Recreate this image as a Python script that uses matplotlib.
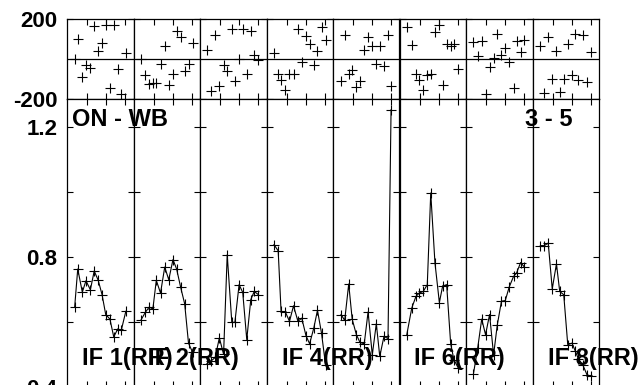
import matplotlib
matplotlib.use('Agg')
import matplotlib.pyplot as plt

plt.rcParams['font.family'] = ['Liberation Sans', 'DejaVu Sans']
plt.rcParams['font.weight'] = 'bold'

# time (per IF column, arbitrary units)
t_if1 = [0.35, 0.51, 0.75, 0.94, 1.17, 1.37, 1.58, 1.78, 1.97, 2.19, 2.39, 2.60, 2.78, 3.02]
t_if2 = [0.33, 0.57, 0.77, 0.96, 1.14, 1.36, 1.58, 1.79, 2.01, 2.20, 2.41, 2.62, 2.82, 3.03]
t_if3 = [0.30, 0.55, 0.74, 0.96, 1.18, 1.37, 1.61, 1.77, 1.99, 2.18, 2.39, 2.60, 2.78, 3.00]
t_if4 = [0.34, 0.56, 0.71, 0.94, 1.15, 1.36, 1.59, 1.79, 2.01, 2.20, 2.42, 2.61, 2.82, 3.03]
t_if5 = [0.37, 0.56, 0.77, 0.95, 1.17, 1.36, 1.58, 1.78, 2.00, 2.21, 2.39, 2.61, 2.82, 2.98]
t_if6 = [0.33, 0.59, 0.81, 0.98, 1.19, 1.40, 1.58, 1.80, 2.03, 2.20, 2.41, 2.62, 2.79, 3.02]
t_if7 = [0.34, 0.56, 0.77, 0.97, 1.18, 1.39, 1.58, 1.80, 2.00, 2.20, 2.43, 2.59, 2.80, 3.00]
t_if8 = [0.36, 0.57, 0.77, 0.98, 1.20, 1.37, 1.58, 1.79, 2.01, 2.18, 2.35, 2.57, 2.79, 3.00]

# amplitude
amp_if1 = [0.645, 0.762, 0.691, 0.726, 0.698, 0.756, 0.727, 0.683, 0.622, 0.608, 0.553, 0.578, 0.573, 0.632]
amp_if2 = [0.604, 0.629, 0.645, 0.639, 0.727, 0.688, 0.768, 0.729, 0.791, 0.762, 0.706, 0.655, 0.534, 0.506]
amp_if3 = [0.470, 0.480, 0.490, 0.550, 0.500, 0.806, 0.598, 0.598, 0.714, 0.690, 0.545, 0.668, 0.693, 0.683]
amp_if4 = [0.837, 0.818, 0.632, 0.629, 0.601, 0.649, 0.601, 0.611, 0.557, 0.532, 0.581, 0.635, 0.565, 0.468]
amp_if5 = [0.622, 0.604, 0.716, 0.608, 0.560, 0.536, 0.532, 0.630, 0.498, 0.594, 0.493, 0.555, 0.548, 1.252]
amp_if6 = [0.560, 0.642, 0.678, 0.688, 0.693, 0.714, 0.996, 0.781, 0.659, 0.709, 0.714, 0.532, 0.483, 0.457]
amp_if7 = [0.440, 0.519, 0.608, 0.560, 0.622, 0.498, 0.589, 0.663, 0.665, 0.706, 0.739, 0.750, 0.782, 0.768]
amp_if8 = [0.834, 0.834, 0.842, 0.701, 0.778, 0.693, 0.683, 0.529, 0.534, 0.510, 0.485, 0.468, 0.437, 0.432]

# phase (deg)
pha_if1 = [2, 102, -90, -28, -45, 165, 38, 80, 168, -145, 172, -48, -173, 30]
pha_if2 = [2, -78, -123, -120, -120, -27, 63, -132, -73, 140, 110, -62, -23, 82]
pha_if3 = [43, -162, 118, -135, -28, -62, 148, -112, 2, 152, -73, 140, 22, -3]
pha_if4 = [30, -73, -107, -157, -73, -77, 148, -15, 113, 73, -32, 40, 160, 93]
pha_if5 = [-112, 118, -73, -57, -140, -110, 43, 110, 63, -27, 63, -35, 122, -135]
pha_if6 = [160, 72, -73, -107, -157, -78, -73, 135, 168, -132, 73, 63, 73, -52]
pha_if7 = [85, 13, 90, -173, -40, 5, 127, 18, 57, -15, -143, 88, 35, 93]
pha_if8 = [63, -170, 110, -98, 40, -165, -102, 73, -82, 127, -107, 118, -115, 35]

times = [t_if1, t_if2, t_if3, t_if4, t_if5, t_if6, t_if7, t_if8]
amps = [amp_if1, amp_if2, amp_if3, amp_if4, amp_if5, amp_if6, amp_if7, amp_if8]
phases = [pha_if1, pha_if2, pha_if3, pha_if4, pha_if5, pha_if6, pha_if7, pha_if8]
if_labels = ['IF 1(RR)', 'IF 2(RR)', '', 'IF 4(RR)', '', 'IF 6(RR)', '', 'IF 8(RR)']

fig = plt.figure(figsize=(6.4, 3.85), dpi=100)

W, H = 640.0, 385.0
x0, x1 = 67.0, 599.0
col_w = (x1 - x0) / 8
top_y0, top_y1 = 19.0, 99.0
bot_y1 = 386.7

for i in range(8):
    left = (x0 + i * col_w) / W
    ax_p = fig.add_axes([left, 1 - top_y1 / H, col_w / W, (top_y1 - top_y0) / H])
    ax_a = fig.add_axes([left, 1 - bot_y1 / H, col_w / W, (bot_y1 - top_y1) / H])

    ax_p.plot(times[i], phases[i], '+', color='black', ms=7, mew=0.8)
    ax_p.axhline(0, color='black', lw=0.9)
    ax_p.set_ylim(-200, 200)

    ax_a.plot(times[i], amps[i], '-+', color='black', lw=0.8, ms=7, mew=0.8)
    ax_a.set_ylim(0.4, 1.285)

    for ax in (ax_p, ax_a):
        ax.set_xlim(-0.05, 3.42)
        ax.set_xticks([1, 2, 3])
        ax.set_xticklabels([])
        ax.tick_params(direction='in', top=True, bottom=True, left=True, right=True,
                       length=4, width=0.8, labelsize=16, pad=7)
        for s in ax.spines.values():
            s.set_linewidth(0.9)

    ax_p.set_yticks([-200, 200])
    ax_a.set_yticks([0.4, 0.6, 0.8, 1.0, 1.2])
    if i == 0:
        ax_p.set_yticklabels(['-200', '200'], fontweight='bold')
        ax_a.set_yticklabels(['0.4', '', '0.8', '', '1.2'], fontweight='bold')
    else:
        ax_p.set_yticklabels([])
        ax_a.set_yticklabels([])

    if if_labels[i]:
        fig.text((x0 + i * col_w + 15) / W, 1 - 358 / H, if_labels[i],
                 fontsize=17, fontweight='bold', ha='left', va='center')

fig.text(72 / W, 1 - 120 / H, 'ON - WB', fontsize=17, fontweight='bold', ha='left', va='center')
fig.text(525 / W, 1 - 120 / H, '3 - 5', fontsize=17, fontweight='bold', ha='left', va='center')

plt.savefig('out.png', dpi=100)
